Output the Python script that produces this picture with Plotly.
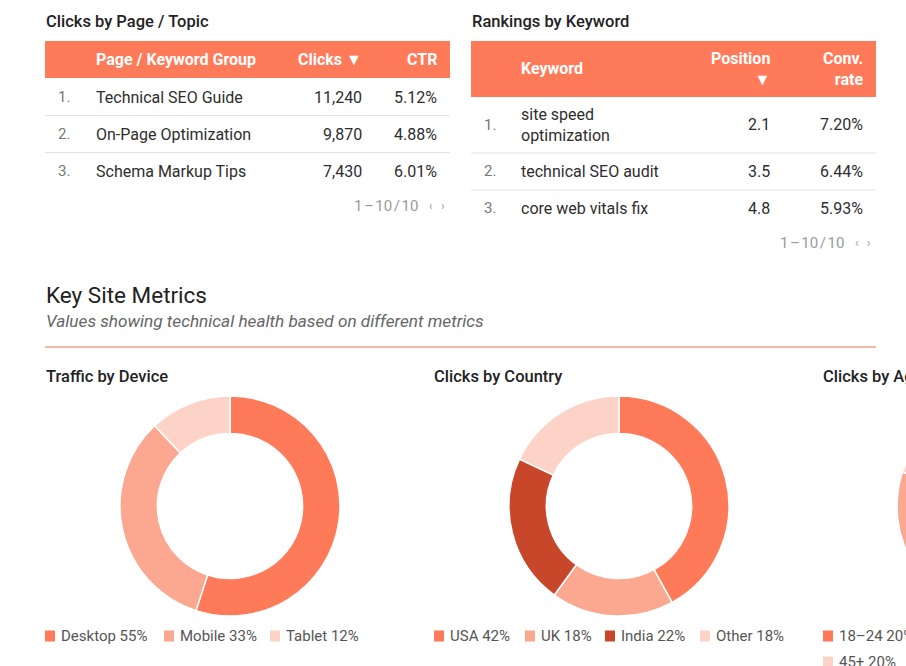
import numpy as np
import plotly.graph_objects as go

# ---------------- data ----------------
pages = ["Technical SEO Guide", "On-Page Optimization", "Schema Markup Tips"]
page_clicks = [11240, 9870, 7430]
page_ctr = [5.12, 4.88, 6.01]

keywords = ["site speed<br>optimization", "technical SEO audit", "core web vitals fix"]
kw_position = [2.1, 3.5, 4.8]
kw_conv = [7.20, 6.44, 5.93]

device_labels = ["Desktop", "Mobile", "Tablet"]
device_share = [55, 33, 12]
country_labels = ["USA", "UK", "India", "Other"]
country_share = [42, 18, 22, 18]
age_labels = ["18–24", "25–34", "35–44", "45+"]
age_share = [20, 35, 25, 20]

# ---------------- style ----------------
W, H = 906, 666
FONT = "Roboto"
ORANGE = "#FF7A59"
SALMON = "#FCA78F"
LIGHT = "#FDD3C7"
DARK = "#C8472B"
TITLE = "#222222"
BODY = "#2E2E2E"


def X(px):
    return px / W


def Y(py):
    return 1 - py / H


annotations = []
shapes = []


def txt(x, y, s, size=16, color=BODY, anchor="left", weight=400, italic=False):
    annotations.append(dict(
        x=X(x), y=Y(y), xref="paper", yref="paper", text=s, showarrow=False,
        xanchor=anchor, yanchor="middle", align=anchor,
        font=dict(family=FONT, size=size, color=color, weight=weight,
                  style="italic" if italic else "normal"),
        borderpad=0,
    ))


def rect(x0, y0, x1, y1, fill, layer="below"):
    shapes.append(dict(type="rect", xref="paper", yref="paper", x0=X(x0), x1=X(x1),
                       y0=Y(y1), y1=Y(y0), fillcolor=fill, line=dict(width=0), layer=layer))


def hline(x0, x1, y, color, width=1):
    shapes.append(dict(type="line", xref="paper", yref="paper", x0=X(x0), x1=X(x1),
                       y0=Y(y), y1=Y(y), line=dict(color=color, width=width)))


PAGER = "1\u200a–\u200a10\u200a/\u200a10"

# ---------------- table 1 ----------------
txt(45, 21, "Clicks by Page / Topic", size=16.5, color=TITLE, weight=500)
rect(45, 41, 450, 78, ORANGE)
txt(95, 60, "Page / Keyword Group", size=16, color="white", weight=700)
txt(363, 60, "Clicks ▼", size=16, color="white", weight=700, anchor="right")
txt(438, 60, "CTR", size=16, color="white", weight=700, anchor="right")
row_y1 = [97, 134, 171]
for i, (name, c, r) in enumerate(zip(pages, page_clicks, page_ctr)):
    y = row_y1[i]
    txt(57, y, f"{i + 1}.", color="#777777", size=15)
    txt(95, y, name)
    txt(363, y, f"{c:,}", anchor="right")
    txt(438, y, f"{r:.2f}%", anchor="right")
for y in [115.5, 152.5]:
    hline(45, 450, y, "#E2E2E2")
txt(419, 206, PAGER, size=15, color="#9A9A9A", anchor="right")
txt(431, 206, "‹", size=12, color="#999999", anchor="center")
txt(443, 206, "›", size=12, color="#999999", anchor="center")

# ---------------- table 2 ----------------
txt(471, 21, "Rankings by Keyword", size=16.5, color=TITLE, weight=500)
rect(471, 41, 876, 97, ORANGE)
txt(520, 68, "Keyword", size=16, color="white", weight=700)
txt(771, 69, "Position<br>▼", size=16, color="white", weight=700, anchor="right")
txt(864, 69, "Conv.<br>rate", size=16, color="white", weight=700, anchor="right")
row_y2 = [125, 171, 208]
for i, (kw, p, cv) in enumerate(zip(keywords, kw_position, kw_conv)):
    y = row_y2[i]
    txt(483, y, f"{i + 1}.", color="#777777", size=15)
    txt(520, y, kw)
    txt(771, y, f"{p:.1f}", anchor="right")
    txt(864, y, f"{cv:.2f}%", anchor="right")
for y in [153, 190]:
    hline(471, 876, y, "#E2E2E2")
txt(845, 243, PAGER, size=15, color="#9A9A9A", anchor="right")
txt(857, 243, "‹", size=12, color="#999999", anchor="center")
txt(869, 243, "›", size=12, color="#999999", anchor="center")

# ---------------- section header ----------------
txt(45, 295, "Key Site Metrics", size=22.5, color=TITLE, weight=400)
txt(45, 321, "Values showing technical health based on different metrics", size=17.2,
    color="#666666", italic=True)
hline(45, 876, 347, "#F2A086", 1.5)

# ---------------- donuts ----------------
CY, R, HOLE = 506, 110, 0.66
traces = []

charts = [
    # title, labels, values, colours, title x, centre x, legend item x, legend item y
    ("Traffic by Device", device_labels, device_share, [ORANGE, SALMON, LIGHT], 45, 230,
     [45, 164, 270], [636, 636, 636]),
    ("Clicks by Country", country_labels, country_share, [ORANGE, SALMON, DARK, LIGHT], 433, 619,
     [434, 525, 605, 700], [636, 636, 636, 636]),
    ("Clicks by Age", age_labels, age_share, [ORANGE, DARK, SALMON, LIGHT], 822, 1007,
     [823, 925, 1027, 823], [636, 636, 636, 662]),
]

for title, labels, vals, cols, tx, cx, lxs, lys in charts:
    txt(tx, 376, title, size=16.5, color=TITLE, weight=500)
    if cx + R <= W:
        traces.append(go.Pie(
            labels=labels, values=vals,
            marker=dict(colors=cols, line=dict(color="white", width=1.5)),
            hole=HOLE, sort=False, direction="clockwise", rotation=0,
            textinfo="none", hoverinfo="label+percent", showlegend=False,
            domain=dict(x=[X(cx - R), X(cx + R)], y=[Y(CY + R), Y(CY - R)]),
        ))
    else:
        # donut runs past the right edge of the page: draw its ring slices on the
        # pixel-scaled cartesian axes so that the page edge clips it
        tot = float(sum(vals))
        cum = np.concatenate([[0.0], np.cumsum(vals)]) / tot
        for k, (lab, v, col) in enumerate(zip(labels, vals, cols)):
            th = np.linspace(cum[k], cum[k + 1], 80) * 2 * np.pi
            ox, oy = cx + R * np.sin(th), CY - R * np.cos(th)
            ix, iy = cx + R * HOLE * np.sin(th[::-1]), CY - R * HOLE * np.cos(th[::-1])
            traces.append(go.Scatter(
                x=np.concatenate([ox, ix, ox[:1]]), y=np.concatenate([oy, iy, oy[:1]]),
                fill="toself", fillcolor=col, mode="lines",
                line=dict(color="white", width=1.5), name=lab,
                hoverinfo="name", showlegend=False,
            ))
    # legend entries (swatch + label) built from the same lists
    for lab, v, col, lx, ly in zip(labels, vals, cols, lxs, lys):
        rect(lx, ly - 5.5, lx + 10, ly + 5.5, col, layer="above")
        txt(lx + 15, ly, f"{lab} {v}%", size=15, color="#555555")

fig = go.Figure(traces)
fig.update_layout(
    width=W, height=H, margin=dict(l=0, r=0, t=0, b=0),
    paper_bgcolor="white", plot_bgcolor="rgba(0,0,0,0)",
    annotations=annotations, shapes=shapes, showlegend=False,
    xaxis=dict(range=[0, W], visible=False, fixedrange=True),
    yaxis=dict(range=[H, 0], visible=False, fixedrange=True),
)
fig.write_html("out.html")
